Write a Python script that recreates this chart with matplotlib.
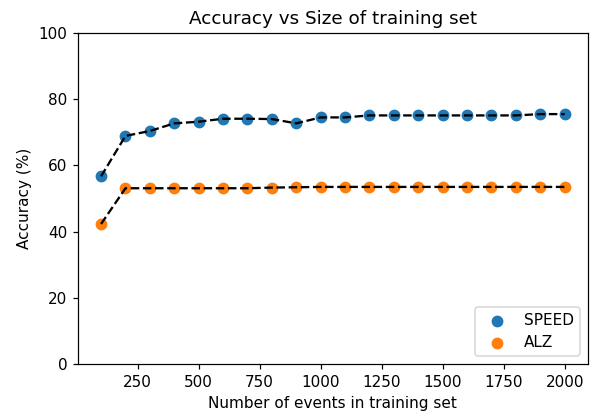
import matplotlib
matplotlib.use("Agg")
import matplotlib.pyplot as plt

# training set sizes
sizes = [100, 200, 300, 400, 500, 600, 700, 800, 900, 1000,
         1100, 1200, 1300, 1400, 1500, 1600, 1700, 1800, 1900, 2000]

# accuracy (%) for each method
speed_acc = [56.7, 68.9, 70.4, 72.7, 73.2, 74.1, 74.1, 74.0, 72.7, 74.5,
             74.5, 75.1, 75.1, 75.1, 75.1, 75.1, 75.1, 75.1, 75.5, 75.5]
alz_acc = [42.3, 53.1, 53.1, 53.1, 53.1, 53.1, 53.1, 53.3, 53.4, 53.5,
           53.5, 53.5, 53.5, 53.5, 53.5, 53.5, 53.5, 53.5, 53.5, 53.5]

dpi = 110
fig = plt.figure(figsize=(590 / dpi, 412 / dpi), dpi=dpi)
ax = fig.add_axes([0.132, 0.1165, 0.8644, 0.8034])

ax.scatter(sizes, speed_acc, s=45, label="SPEED")
ax.scatter(sizes, alz_acc, s=45, label="ALZ")
ax.plot(sizes, speed_acc, "k--", lw=1.5)
ax.plot(sizes, alz_acc, "k--", lw=1.5)

ax.set_ylim(0, 100)
ax.set_title("Accuracy vs Size of training set")
ax.set_xlabel("Number of events in training set")
ax.set_ylabel("Accuracy (%)")
ax.legend(loc="lower right")

fig.savefig("out.png", dpi=dpi)
